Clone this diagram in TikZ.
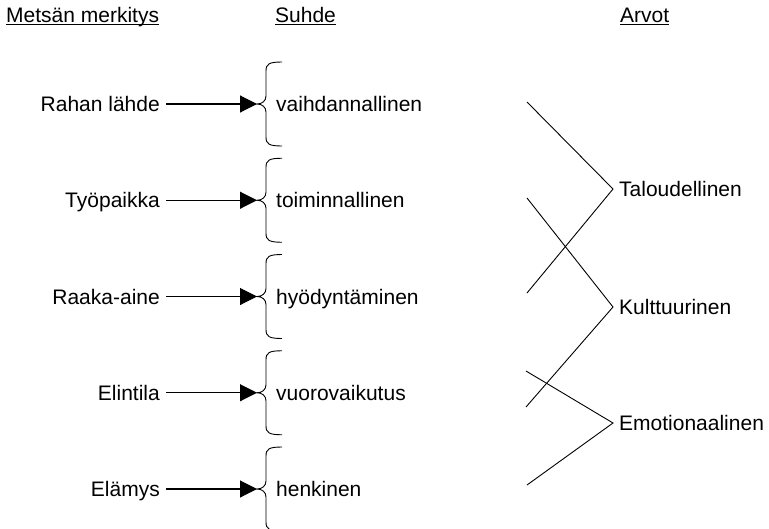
\documentclass[tikz,border=0pt]{standalone}
\usepackage{fontspec}
\setmainfont{Liberation Sans}
\usetikzlibrary{arrows.meta}

\begin{document}
\begin{tikzpicture}[
  x=1pt, y=-1pt,
  entry/.style={inner sep=0pt, text height=15pt, text depth=0pt},
  header/.style={inner sep=0pt, anchor=base west},
  link/.style={draw, line width=1.1pt, shorten <=6pt, -{Triangle[length=17pt,width=17pt]}},
  curly/.style={draw, line width=0.9pt},
  strand/.style={draw, line width=0.9pt},
  font=\fontsize{21}{25}\selectfont
]
\useasboundingbox (0,0) rectangle (769,528);

% Column headers
\node[header] at (6,22) (hmerk) {Metsän merkitys};
\node[header] at (275,22) (hsuhde) {Suhde};
\node[header] at (620,22) (harvot) {Arvot};
\foreach \h in {hmerk,hsuhde,harvot}
  \draw[line width=1.6pt] ([yshift=-2.5pt]\h.base west) -- ([yshift=-2.5pt]\h.base east);

% Meanings, arrows and relations
\foreach \i/\m/\s in {0/Rahan lähde/vaihdannallinen, 1/Työpaikka/toiminnallinen,
    2/Raaka-aine/hyödyntäminen, 3/Elintila/vuorovaikutus, 4/Elämys/henkinen} {
  \pgfmathsetmacro{\y}{104+96.25*\i}
  \node[entry, anchor=east] at (160,\y) (m\i) {\m};
  \node[entry, anchor=west] at (276,\y) (s\i) {\s};
  \coordinate (tip\i) at (257,\y);
  \draw[curly] (282,\y-42) .. controls (269,\y-42) and (266,\y-40) .. (266,\y-33)
    -- (266,\y-8) .. controls (266,\y-3) and (262,\y) .. (tip\i)
    .. controls (262,\y) and (266,\y+3) .. (266,\y+8)
    -- (266,\y+33) .. controls (266,\y+40) and (269,\y+42) .. (282,\y+42);
  \draw[link] (m\i.east) -- (tip\i);
}

% Values
\node[entry, anchor=west] at (619,189) (tal) {Taloudellinen};
\node[entry, anchor=west] at (619,307) (kul) {Kulttuurinen};
\node[entry, anchor=west] at (619,423) (emo) {Emotionaalinen};

\coordinate (t1) at (527,102);
\coordinate (t2) at (527,293);
\coordinate (k1) at (527,198);
\coordinate (k2) at (526,407);
\coordinate (e1) at (526,371);
\coordinate (e2) at (527,485);

\draw[strand] (t1) -- ([xshift=-6pt]tal.west) -- (t2);
\draw[strand] (k1) -- ([xshift=-6pt]kul.west) -- (k2);
\draw[strand] (e1) -- ([xshift=-6pt]emo.west) -- (e2);

\end{tikzpicture}
\end{document}
